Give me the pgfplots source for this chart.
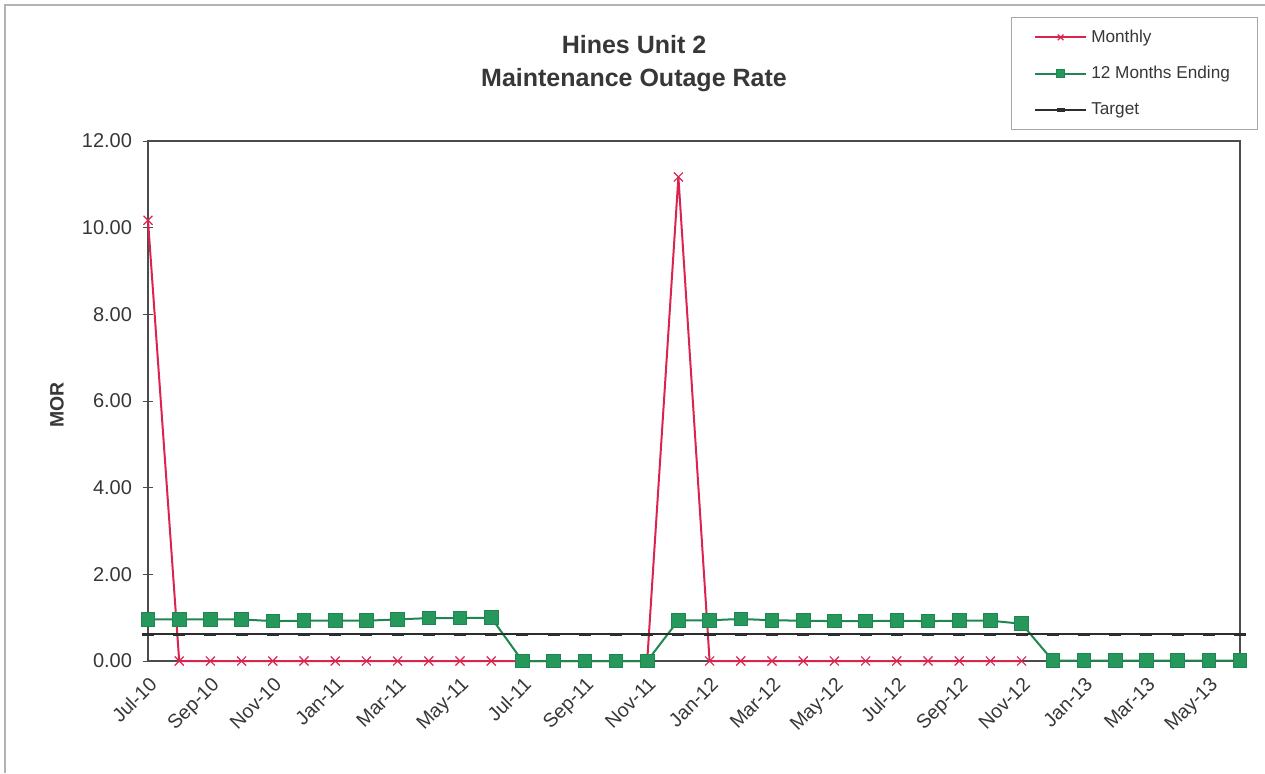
\documentclass[border=0pt]{standalone}
\usepackage{fontspec}
\setmainfont{Liberation Sans}
\usepackage{pgfplots}
\pgfplotsset{compat=1.18}

\definecolor{monthly}{RGB}{218,35,78}
\definecolor{twelve}{RGB}{30,135,80}
\definecolor{twelvefill}{RGB}{38,152,92}
\definecolor{target}{RGB}{45,45,45}
\definecolor{txt}{RGB}{55,55,55}

\begin{document}
\begin{tikzpicture}
\useasboundingbox (0,0) rectangle (632.5pt,386.5pt);
% chart frame (left and top edges)
\draw[black!30, line width=0.6pt] (2.5pt,0) -- (2.5pt,384pt) -- (632.5pt,384pt);
\begin{axis}[
    at={(74pt,56pt)}, anchor=south west,
    scale only axis, width=546pt, height=260pt,
    xmin=0, xmax=35, ymin=0, ymax=12,
    clip=false,
    xtick={0,2,...,34},
    xticklabels={Jul-10,Sep-10,Nov-10,Jan-11,Mar-11,May-11,Jul-11,Sep-11,Nov-11,Jan-12,Mar-12,May-12,Jul-12,Sep-12,Nov-12,Jan-13,Mar-13,May-13},
    x tick label style={rotate=45, anchor=north east, font=\fontsize{9.8}{11}\selectfont, text=txt},
    xtick style={draw=none},
    ytick={0,2,...,12},
    ytick pos=left,
    y tick label style={font=\fontsize{10}{11}\selectfont, text=txt, xshift=-2pt, /pgf/number format/.cd, fixed, fixed zerofill, precision=2, /tikz/.cd},
    /pgf/number format/assume math mode=true,
    ytick style={draw=black!70},
    tick align=center, major tick length=5pt,
    axis line style={draw=black!70, line width=0.6pt},
    legend cell align=left,
    legend style={at={(0.790,1.238)}, anchor=north west, draw=black!35,
        font=\fontsize{8.6}{10}\selectfont, text=txt,
        inner xsep=11.5pt, inner ysep=4pt, row sep=6.5pt},
    legend image code/.code={\draw[mark repeat=2,mark phase=2, mark size=2pt] plot coordinates {(0cm,0cm)(0.45cm,0cm)(0.9cm,0cm)};},
]
\addplot[monthly, line width=1pt, mark=x, mark size=3.2pt, mark options={line width=0.6pt}] coordinates {
(0,10.17) (1,0) (2,0) (3,0) (4,0) (5,0) (6,0) (7,0) (8,0) (9,0) (10,0) (11,0)
(12,0) (13,0) (14,0) (15,0) (16,0) (17,11.17) (18,0) (19,0) (20,0) (21,0) (22,0) (23,0)
(24,0) (25,0) (26,0) (27,0) (28,0)
};
\addplot[twelve, line width=1pt, mark=square*, mark size=3.4pt, mark options={fill=twelvefill, draw=twelve, line width=0.5pt}] coordinates {
(0,0.96) (1,0.96) (2,0.96) (3,0.96) (4,0.92) (5,0.93) (6,0.93) (7,0.93) (8,0.96) (9,0.99) (10,0.99) (11,1.00)
(12,0) (13,0) (14,0) (15,0) (16,0) (17,0.94) (18,0.94) (19,0.97) (20,0.94) (21,0.93) (22,0.92) (23,0.92)
(24,0.93) (25,0.92) (26,0.93) (27,0.93) (28,0.86) (29,0.01) (30,0.01) (31,0.01) (32,0.01) (33,0.01) (34,0.01) (35,0.01)
};
\addplot[target, line width=1pt, mark=-, mark size=3pt, mark options={line width=1.6pt}] coordinates {
(0,0.62) (1,0.62) (2,0.62) (3,0.62) (4,0.62) (5,0.62) (6,0.62) (7,0.62) (8,0.62) (9,0.62) (10,0.62) (11,0.62)
(12,0.62) (13,0.62) (14,0.62) (15,0.62) (16,0.62) (17,0.62) (18,0.62) (19,0.62) (20,0.62) (21,0.62) (22,0.62) (23,0.62)
(24,0.62) (25,0.62) (26,0.62) (27,0.62) (28,0.62) (29,0.62) (30,0.62) (31,0.62) (32,0.62) (33,0.62) (34,0.62) (35,0.62)
};
\legend{Monthly, 12 Months Ending, Target}
\end{axis}
\node[align=center, text=txt, font=\fontsize{12.5}{16.5}\selectfont\bfseries] at (317pt,354.75pt) {Hines Unit 2\\Maintenance Outage Rate};
\node[rotate=90, text=txt, font=\fontsize{9.7}{11}\selectfont\bfseries] at (28.5pt,184pt) {MOR};
\end{tikzpicture}
\end{document}
